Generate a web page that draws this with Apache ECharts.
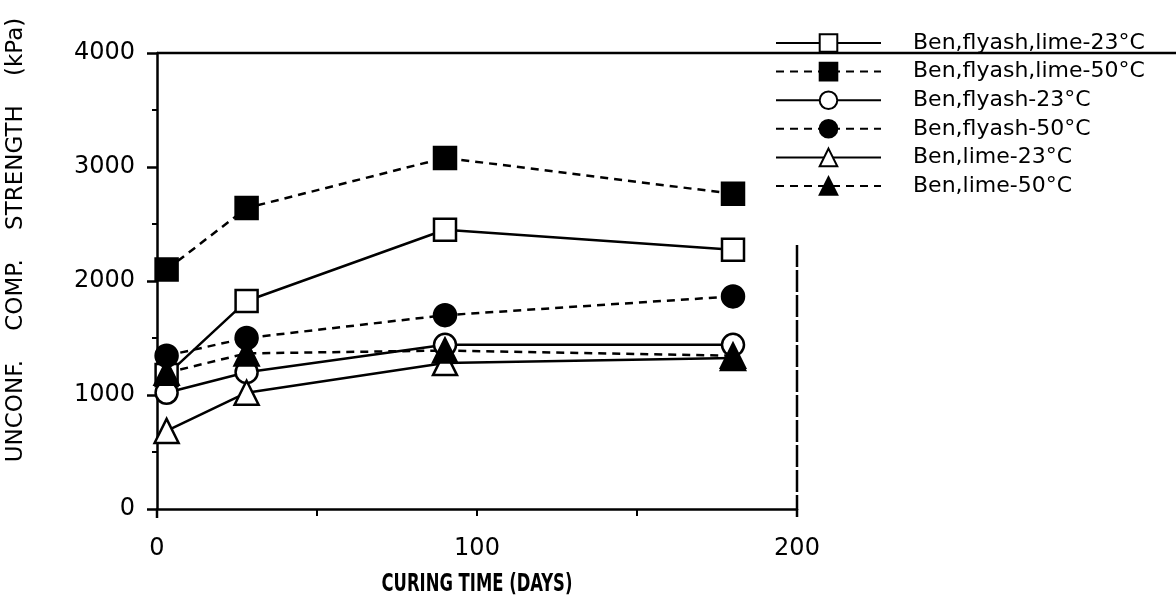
<!DOCTYPE html>
<html>
<head>
<meta charset="utf-8">
<title>Curing time vs strength</title>
<script src="https://cdn.jsdelivr.net/npm/echarts@6.0.0/dist/echarts.min.js"></script>
<style>
  html, body { margin: 0; padding: 0; background: #fff; }
  #chart { width: 1176px; height: 609px; }
</style>
</head>
<body>
<div id="chart"></div>
<script>
// curing time (days) and unconfined compressive strength (kPa)
const days = [3, 28, 90, 180];
const benFlyashLime23 = [1175, 1825, 2450, 2275];
const benFlyashLime50 = [2100, 2640, 3080, 2765];
const benFlyash23 = [1020, 1200, 1440, 1440];
const benFlyash50 = [1345, 1500, 1700, 1865];
const benLime23 = [685, 1020, 1280, 1325];
const benLime50 = [1195, 1365, 1390, 1345];

const seriesNames = [
  "Ben,flyash,lime-23°C",
  "Ben,flyash,lime-50°C",
  "Ben,flyash-23°C",
  "Ben,flyash-50°C",
  "Ben,lime-23°C",
  "Ben,lime-50°C",
];
const xTicks = [0, 100, 200];
const yTitle = "UNCONF.    COMP.    STRENGTH    (kPa)";
const xTitle = "CURING TIME (DAYS)";

const FONT = '"DejaVu Sans", "Liberation Sans", sans-serif';

const toPoints = (vals) => vals.map((v, i) => [days[i], v]);

// symbol, filled?, dashed?
const looks = [
  ["rect", false, false],
  ["rect", true, true],
  ["circle", false, false],
  ["circle", true, true],
  ["triangle", false, false],
  ["triangle", true, true],
];
const valueLists = [benFlyashLime23, benFlyashLime50, benFlyash23, benFlyash50, benLime23, benLime50];

const seriesList = valueLists.map((vals, i) => {
  const [sym, filled, dashed] = looks[i];
  return {
    name: seriesNames[i],
    type: "line",
    data: toPoints(vals),
    symbol: sym,
    symbolSize: sym === "triangle" ? 24 : 22,
    lineStyle: { color: "#000", width: 2.5, type: dashed ? [8, 6] : "solid" },
    itemStyle: {
      color: filled ? "#000" : "#fff",
      borderColor: "#000",
      borderWidth: 2.5,
    },
    emphasis: { disabled: true },
    animation: false,
  };
});

const chart = echarts.init(document.getElementById("chart"));

const option = {
  backgroundColor: "#fff",
  animation: false,
  grid: {
    left: 157,
    right: 379,
    top: 53,
    bottom: 100,
    containLabel: false,
    outerBoundsMode: "none",
  },
  legend: {
    orient: "vertical",
    left: 770,
    top: 27,
    itemWidth: 105,
    itemHeight: 22,
    itemGap: 6.6,
    data: seriesNames,
    textStyle: {
      fontFamily: FONT,
      fontSize: 22,
      color: "#000",
      padding: [0, 0, 0, 27],
    },
  },
  xAxis: {
    type: "value",
    min: 0,
    max: 200,
    interval: 50,
    axisLine: { show: true, onZero: false, lineStyle: { color: "#000", width: 2.5 } },
    axisTick: {
      show: true,
      inside: false,
      length: 7,
      lineStyle: { color: "#000", width: 2 },
    },
    axisLabel: {
      margin: 28,
      fontFamily: FONT,
      fontSize: 24,
      color: "#000",
      formatter: (v) => (xTicks.includes(v) ? String(v) : ""),
    },
    splitLine: { show: false },
  },
  yAxis: {
    type: "value",
    min: 0,
    max: 4000,
    interval: 1000,
    axisLine: { show: true, lineStyle: { color: "#000", width: 2.5 } },
    axisTick: {
      show: true,
      inside: false,
      length: 10,
      lineStyle: { color: "#000", width: 2.5 },
    },
    minorTick: {
      show: true,
      splitNumber: 2,
      length: 5,
      lineStyle: { color: "#000", width: 2 },
    },
    axisLabel: {
      margin: 22,
      fontFamily: FONT,
      fontSize: 24,
      color: "#000",
      formatter: (v) => String(v),
    },
    splitLine: { show: false },
  },
  graphic: [
    {
      type: "text",
      x: 16,
      y: 240,
      rotation: Math.PI / 2,
      style: {
        text: yTitle,
        fontSize: 23,
        fontFamily: FONT,
        fill: "#000",
        align: "center",
        verticalAlign: "middle",
      },
    },
    {
      type: "text",
      x: 477,
      y: 585,
      scaleX: 0.76,
      style: {
        text: xTitle,
        fontSize: 24,
        fontWeight: "bold",
        fontFamily: '"DejaVu Sans Condensed", "DejaVu Sans", sans-serif',
        fill: "#000",
        align: "center",
        verticalAlign: "middle",
      },
    },
    // frame top edge, runs across the page
    {
      type: "line",
      shape: { x1: 157, y1: 53, x2: 1176, y2: 53 },
      style: { stroke: "#000", lineWidth: 2.5 },
    },
    // right frame edge (partial, dashed)
    {
      type: "line",
      shape: { x1: 797, y1: 245, x2: 797, y2: 518 },
      style: { stroke: "#000", lineWidth: 2.5, lineDash: [22, 3] },
    },
    // left axis runs a little past zero
    {
      type: "line",
      shape: { x1: 157, y1: 509, x2: 157, y2: 518 },
      style: { stroke: "#000", lineWidth: 2.5 },
    },
  ],
  series: seriesList,
};

chart.setOption(option);
</script>
</body>
</html>
